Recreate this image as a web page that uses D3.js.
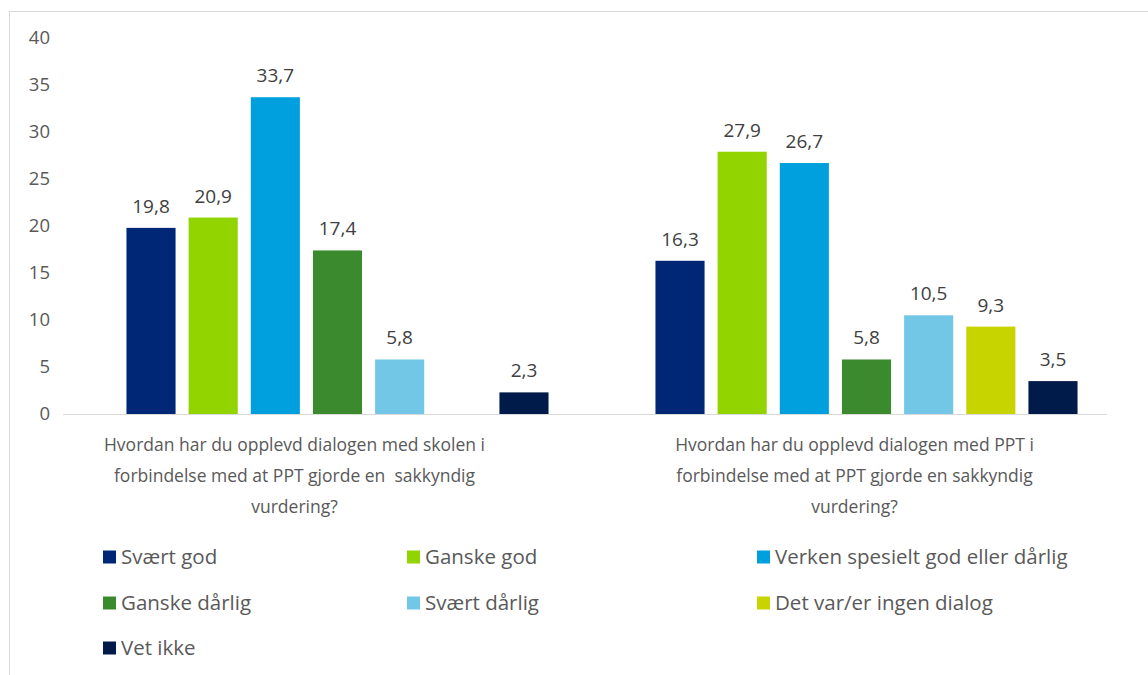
<!DOCTYPE html>
<html>
<head>
<meta charset="utf-8">
<script src="https://cdn.jsdelivr.net/npm/d3@7"></script>
<style>
  body { margin: 0; background: #fff; }
  svg text { font-family: "Open Sans", "Noto Sans", sans-serif; white-space: pre; }
</style>
</head>
<body>
<div id="chart"></div>
<script>
var groups = [
  ['Hvordan har du opplevd dialogen med skolen i', 'forbindelse med at PPT gjorde en  sakkyndig', 'vurdering?'],
  ['Hvordan har du opplevd dialogen med PPT i', 'forbindelse med at PPT gjorde en sakkyndig', 'vurdering?']
];
var series = ['Svært god', 'Ganske god', 'Verken spesielt god eller dårlig',
              'Ganske dårlig', 'Svært dårlig', 'Det var/er ingen dialog', 'Vet ikke'];
var skolenValues = [19.8, 20.9, 33.7, 17.4, 5.8, null, 2.3];
var pptValues = [16.3, 27.9, 26.7, 5.8, 10.5, 9.3, 3.5];
var yTicks = [0, 5, 10, 15, 20, 25, 30, 35, 40];
var colors = ['#002776', '#92D400', '#00A0DF', '#3C8A2E', '#72C7E7', '#C8D400', '#001A49'];

var width = 1148, height = 675;
var allValues = [skolenValues, pptValues];

var svg = d3.select('#chart').append('svg')
    .attr('width', width)
    .attr('height', height);

// chart frame
svg.append('rect')
    .attr('x', 9.5).attr('y', 11.5)
    .attr('width', 1200).attr('height', 700)
    .attr('fill', 'white')
    .attr('stroke', '#D9D9D9');

var yScale = d3.scaleLinear()
    .domain([0, 40])
    .range([414, 38]);

var x0 = d3.scaleBand()
    .domain([0, 1])
    .range([73, 1131]);

var x1 = d3.scaleBand()
    .domain(series)
    .range([0, x0.bandwidth()])
    .paddingInner(0.21)
    .paddingOuter(0.86);

var color = d3.scaleOrdinal().domain(series).range(colors);

// y tick labels
svg.append('g').selectAll('text')
    .data(yTicks)
    .enter().append('text')
    .attr('x', 50)
    .attr('y', function(d) { return yScale(d); })
    .attr('dy', '0.35em')
    .attr('text-anchor', 'end')
    .style('font-size', '18.5px')
    .style('fill', '#595959')
    .text(function(d) { return d; });

// axis line
svg.append('line')
    .attr('x1', 63).attr('x2', 1107)
    .attr('y1', yScale(0) + 0.5).attr('y2', yScale(0) + 0.5)
    .attr('stroke', '#D9D9D9')
    .attr('stroke-width', 1);

var fmt = function(v) { return d3.format('.1f')(v).replace('.', ','); };

var grp = svg.append('g').selectAll('g')
    .data(allValues)
    .enter().append('g')
    .attr('transform', function(d, i) { return 'translate(' + x0(i) + ',0)'; });

var cells = grp.selectAll('g')
    .data(function(vals) {
      return series.map(function(s, j) { return { key: s, value: vals[j] }; })
        .filter(function(d) { return d.value != null; });
    })
    .enter().append('g');

cells.append('rect')
    .attr('x', function(d) { return x1(d.key); })
    .attr('width', x1.bandwidth())
    .attr('y', function(d) { return yScale(d.value); })
    .attr('height', function(d) { return yScale(0) - yScale(d.value); })
    .attr('fill', function(d) { return color(d.key); });

cells.append('text')
    .attr('x', function(d) { return x1(d.key) + x1.bandwidth() / 2; })
    .attr('y', function(d) { return yScale(d.value) - 15; })
    .attr('text-anchor', 'middle')
    .style('font-size', '19px')
    .style('fill', '#404040')
    .text(function(d) { return fmt(d.value); });

// category labels
var labelShift = [-43, -12];
svg.append('g').selectAll('text')
    .data(groups)
    .enter().append('text')
    .attr('text-anchor', 'middle')
    .style('font-size', '17.5px')
    .style('fill', '#595959')
    .each(function(lines, i) {
      var t = d3.select(this);
      lines.forEach(function(l, k) {
        t.append('tspan')
          .attr('x', x0(i) + x0.bandwidth() / 2 + labelShift[i])
          .attr('y', 451 + k * 31)
          .text(l);
      });
    });

// legend
var legendCols = [103, 407, 757];
var legendRows = [557, 603, 648];
var leg = svg.append('g').selectAll('g')
    .data(series)
    .enter().append('g')
    .attr('transform', function(d, i) {
      return 'translate(' + legendCols[i % 3] + ',' + legendRows[Math.floor(i / 3)] + ')';
    });

leg.append('rect')
    .attr('x', 0).attr('y', -6.5)
    .attr('width', 13).attr('height', 13)
    .attr('fill', function(d) { return color(d); });

leg.append('text')
    .attr('x', 18)
    .attr('dy', '0.35em')
    .style('font-size', '20.5px')
    .style('fill', '#595959')
    .text(function(d) { return d; });
</script>
</body>
</html>
